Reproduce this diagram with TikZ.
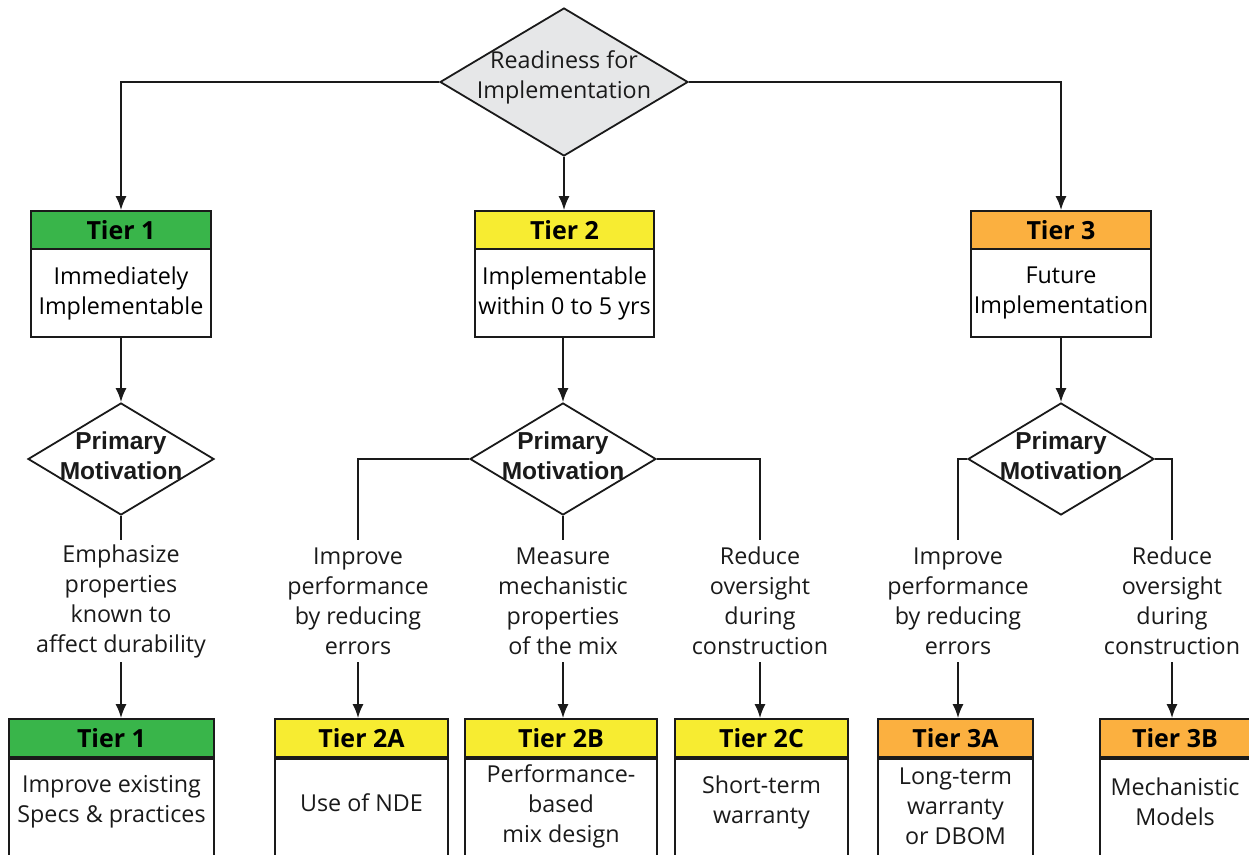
\documentclass[tikz,border=0pt]{standalone}
\usepackage{fontspec}
\setmainfont{Open Sans}
\newfontfamily\arialfont{Liberation Sans}
\usetikzlibrary{shapes.geometric,arrows.meta}

\definecolor{tgreen}{HTML}{39B54A}
\definecolor{tyellow}{HTML}{F7EC31}
\definecolor{torange}{HTML}{FBB040}
\definecolor{dgray}{HTML}{E6E7E8}
\definecolor{ink}{HTML}{1A1A1A}

\newcommand{\bodyfont}{\fontsize{23.3}{30}\selectfont}
\newcommand{\hdrfont}{\bfseries\fontsize{25}{28}\selectfont}
\newcommand{\pmfont}{\arialfont\bfseries\fontsize{24.5}{30}\selectfont}

\tikzset{
  hdr/.style={draw=ink, line width=1.8pt, minimum height=38pt, inner sep=0pt, font=\hdrfont},
  bodybox/.style={draw=ink, line width=1.8pt, inner sep=0pt, align=center, font=\bodyfont},
  txt/.style={align=center, font=\bodyfont, inner sep=0pt, text=ink},
  lbl/.style={txt, minimum height=122pt},
  dia/.style={diamond, draw=ink, line width=1.8pt, inner sep=0pt},
  pm/.style={dia, minimum width=186pt, minimum height=112pt},
  pmtext/.style={align=center, font=\pmfont, inner sep=0pt, text=ink},
  wire/.style={draw=ink, line width=1.8pt},
  arr/.style={wire, -{Latex[length=14pt,width=11pt]}}
}

\begin{document}
\begin{tikzpicture}[x=1pt,y=-1pt]
\clip (0,0) rectangle (1249,854);

% decision at the top
\node[dia, fill=dgray, minimum width=248pt, minimum height=148pt] (ready) at (564,82) {};
\node[txt] (readyt) at (564,77) {Readiness for\\Implementation};

% three tiers
\node[hdr, fill=tgreen, minimum width=180pt] (t1h) at (121,230) {Tier 1};
\node[bodybox, minimum width=180pt, minimum height=88pt] (t1b) at (121,293) {Immediately\\Implementable};
\node[hdr, fill=tyellow, minimum width=179pt] (t2h) at (564.5,230) {Tier 2};
\node[bodybox, minimum width=179pt, minimum height=88pt] (t2b) at (564.5,293) {Implementable\\within 0 to 5 yrs};
\node[hdr, fill=torange, minimum width=180pt] (t3h) at (1061,230) {Tier 3};
\node[bodybox, minimum width=180pt, minimum height=88pt] (t3b) at (1061,293) {Future\\Implementation};

\draw[arr] (ready.west) -| (t1h.north);
\draw[arr] (ready.south) -- (ready.south |- t2h.north);
\draw[arr] (ready.east) -| (t3h.north);

% motivation decisions
\node[pm] (pm1) at (121,459) {};
\node[pmtext] (pm1t) at (121,456) {Primary\\Motivation};
\node[pm] (pm2) at (563,459) {};
\node[pmtext] (pm2t) at (563,456) {Primary\\Motivation};
\node[pm] (pm3) at (1061,459) {};
\node[pmtext] (pm3t) at (1061,456) {Primary\\Motivation};

\draw[arr] (t1b.south) -- (pm1.north);
\draw[arr] (pm2.north |- t2b.south) -- (pm2.north);
\draw[arr] (t3b.south) -- (t3b.south |- pm3.north);

% branch labels
\node[lbl] (l1) at (121,601) {Emphasize\\properties\\known to\\affect durability};
\node[lbl] (l2a) at (358,601) {Improve\\performance\\by reducing\\errors};
\node[lbl] (l2b) at (563,601) {Measure\\mechanistic\\properties\\of the mix};
\node[lbl] (l2c) at (760,601) {Reduce\\oversight\\during\\construction};
\node[lbl] (l3a) at (958,601) {Improve\\performance\\by reducing\\errors};
\node[lbl] (l3b) at (1172,601) {Reduce\\oversight\\during\\construction};

\draw[wire] (pm1.south) -- (l1.north);
\draw[wire] (pm2.west) -| (l2a.north);
\draw[wire] (pm2.south) -- (l2b.north);
\draw[wire] (pm2.east) -| (l2c.north);
\draw[wire] (pm3.west) -| (l3a.north);
\draw[wire] (pm3.east) -| (l3b.north);

% outcome boxes
\node[hdr, fill=tgreen, minimum width=205pt] (b1h) at (111.5,738) {Tier 1};
\node[bodybox, minimum width=205pt, minimum height=120pt, anchor=north] (b1b) at (b1h.south) {};
\node[txt] (b1t) at (111.5,802) {Improve existing\\Specs \& practices};

\node[hdr, fill=tyellow, minimum width=173pt] (b2ah) at (361.5,738) {Tier 2A};
\node[bodybox, minimum width=173pt, minimum height=120pt, anchor=north] (b2ab) at (b2ah.south) {};
\node[txt] (b2at) at (361.5,803) {Use of NDE};

\node[hdr, fill=tyellow, minimum width=192pt] (b2bh) at (561,738) {Tier 2B};
\node[bodybox, minimum width=192pt, minimum height=120pt, anchor=north] (b2bb) at (b2bh.south) {};
\node[txt] (b2bt) at (561,806) {Performance-\\based\\mix design};

\node[hdr, fill=tyellow, minimum width=173pt] (b2ch) at (761.5,738) {Tier 2C};
\node[bodybox, minimum width=173pt, minimum height=120pt, anchor=north] (b2cb) at (b2ch.south) {};
\node[txt] (b2ct) at (761.5,802) {Short-term\\warranty};

\node[hdr, fill=torange, minimum width=155pt] (b3ah) at (955.5,738) {Tier 3A};
\node[bodybox, minimum width=155pt, minimum height=120pt, anchor=north] (b3ab) at (b3ah.south) {};
\node[txt] (b3at) at (955.5,806) {Long-term\\warranty\\or DBOM};

\node[hdr, fill=torange, minimum width=150pt] (b3bh) at (1175,738) {Tier 3B};
\node[bodybox, minimum width=150pt, minimum height=120pt, anchor=north] (b3bb) at (b3bh.south) {};
\node[txt] (b3bt) at (1175,802) {Mechanistic\\Models};

\draw[arr] (l1.south) -- (l1.south |- b1h.north);
\draw[arr] (l2a.south) -- (l2a.south |- b2ah.north);
\draw[arr] (l2b.south) -- (l2b.south |- b2bh.north);
\draw[arr] (l2c.south) -- (l2c.south |- b2ch.north);
\draw[arr] (l3a.south) -- (l3a.south |- b3ah.north);
\draw[arr] (l3b.south) -- (l3b.south |- b3bh.north);
\end{tikzpicture}
\end{document}
